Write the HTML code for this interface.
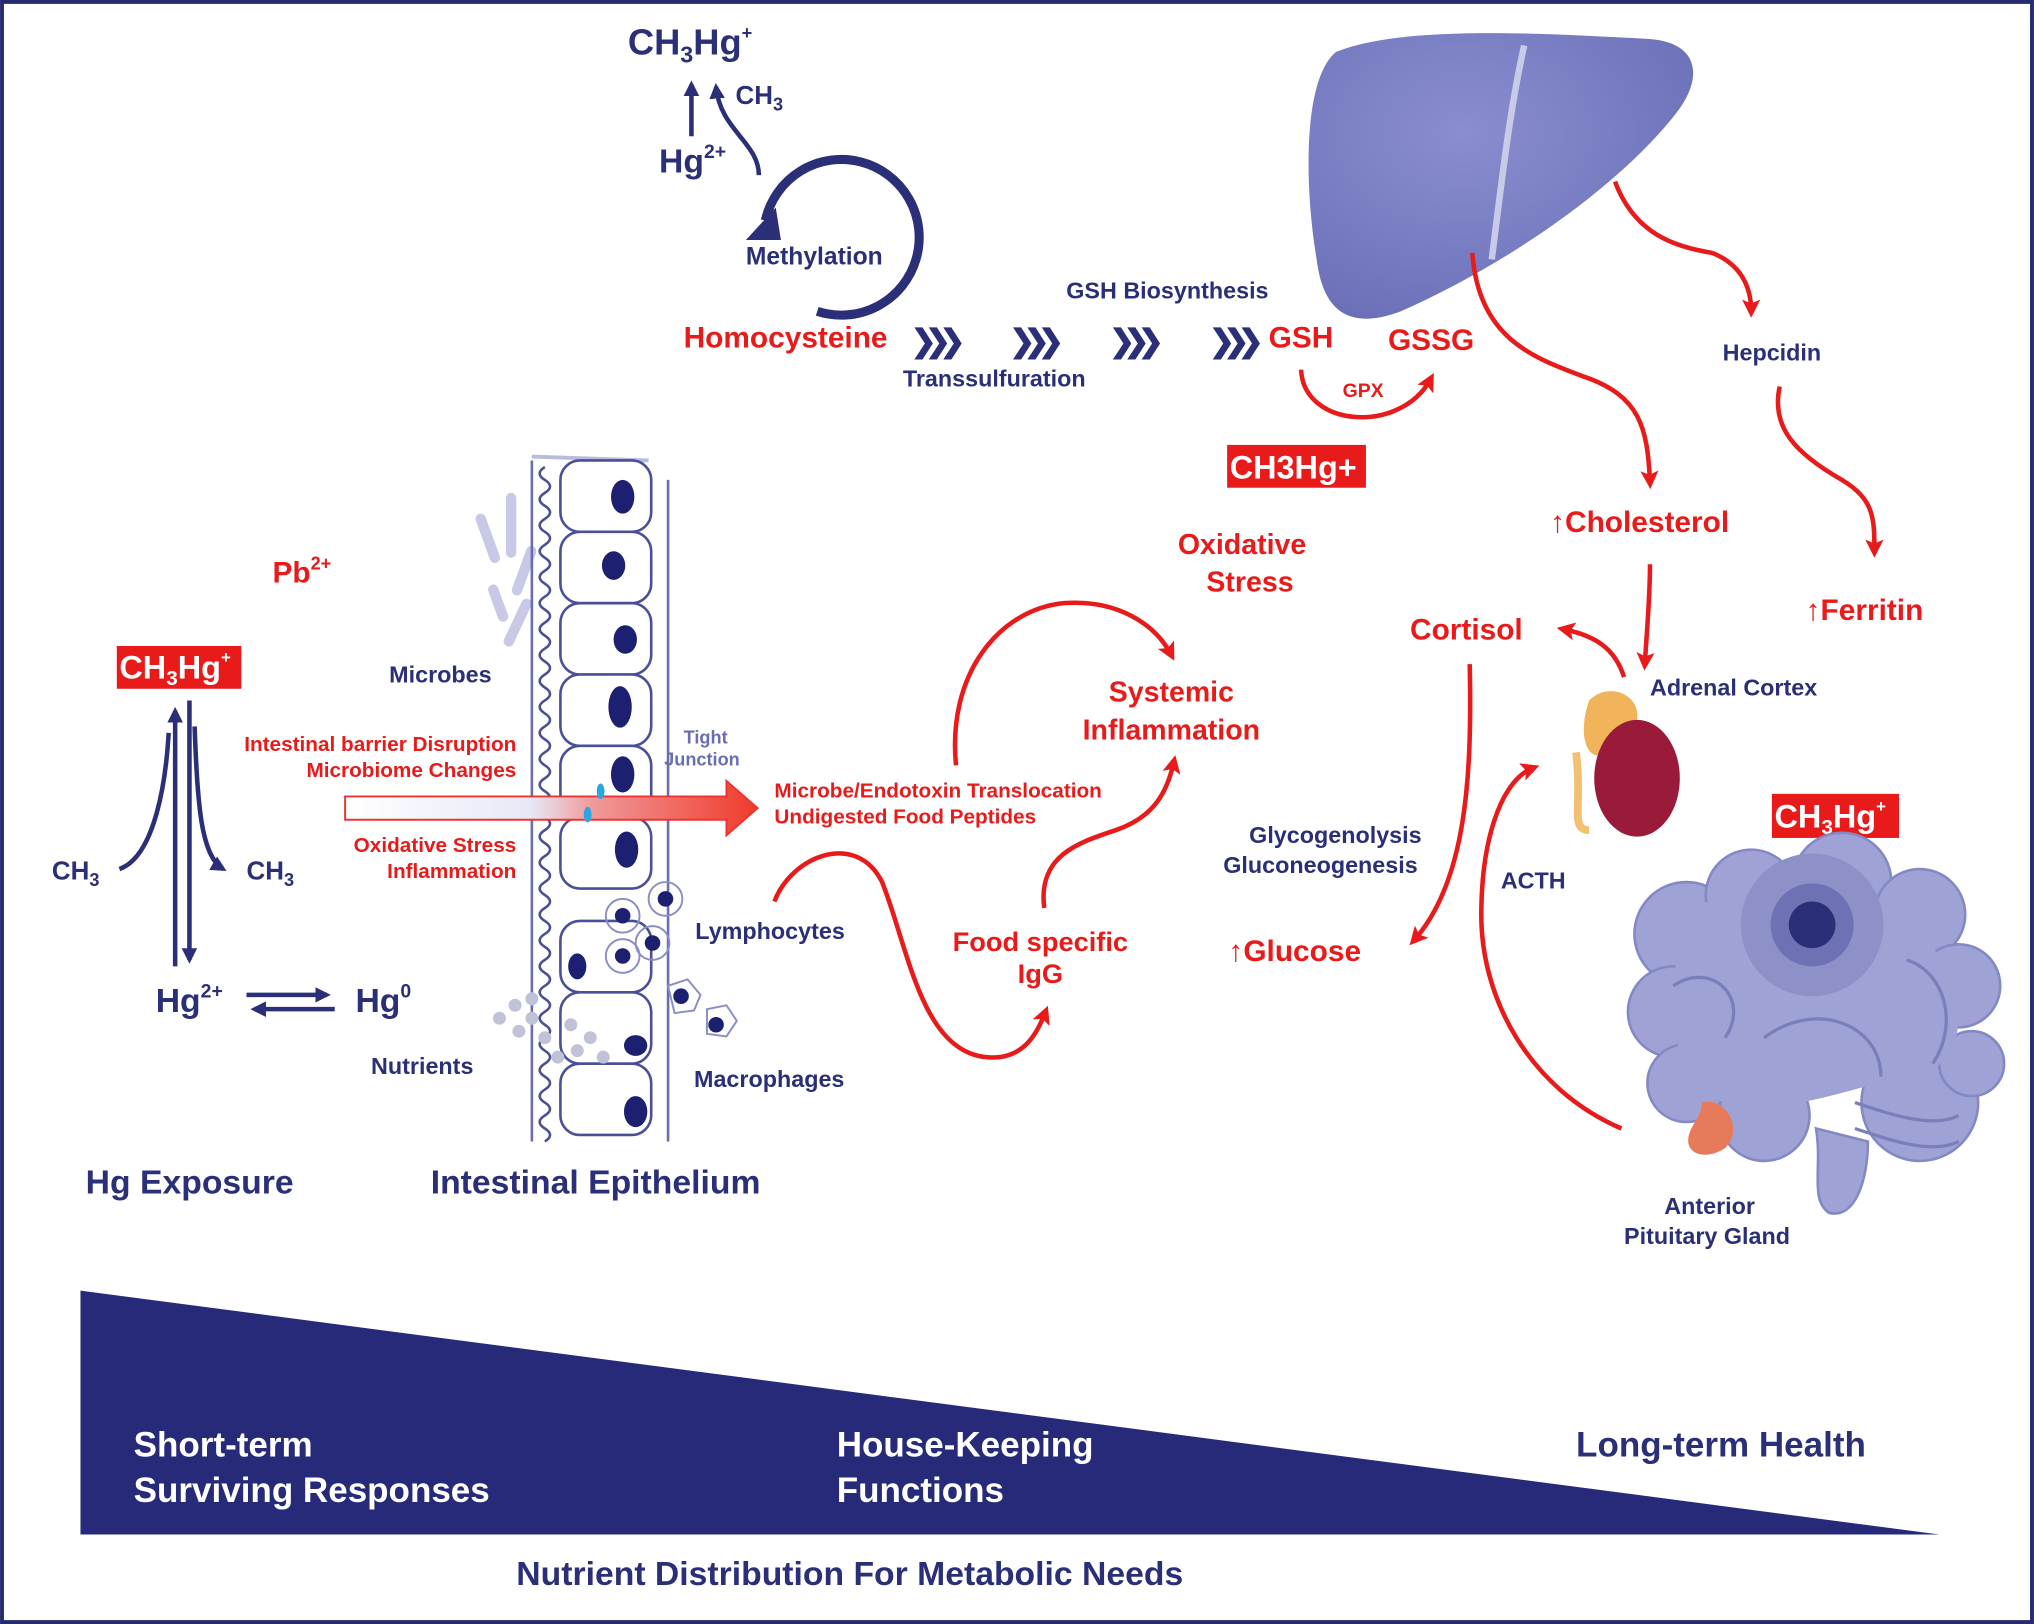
<!DOCTYPE html>
<html><head><meta charset="utf-8"><style>
html,body{margin:0;padding:0;background:#fff;}
svg{display:block;}
text{font-family:"Liberation Sans",sans-serif;font-weight:bold;}
.n{fill:#2b2f78;}
.r{fill:#e81a1a;}
.ra{fill:none;stroke:#e81a1a;stroke-width:3.5;}
.na{fill:none;stroke:#2b2f78;stroke-width:3.5;}
</style></head><body>
<svg width="2034" height="1624" viewBox="0 0 1568 1252" xmlns="http://www.w3.org/2000/svg">
<defs>
<marker id="ar" markerWidth="16" markerHeight="16" refX="9" refY="7" orient="auto" markerUnits="userSpaceOnUse"><path d="M0,0 L14,7 L0,14 L3,7 Z" fill="#e81a1a"/></marker>
<marker id="an" markerWidth="16" markerHeight="16" refX="9" refY="6" orient="auto" markerUnits="userSpaceOnUse"><path d="M0,0 L12,6 L0,12 Z" fill="#2b2f78"/></marker>
<linearGradient id="bg" x1="0" x2="1"><stop offset="0" stop-color="#fff"/><stop offset="0.45" stop-color="#e6e8f6"/><stop offset="0.6" stop-color="#ef9a9a"/><stop offset="1" stop-color="#f03a2a"/></linearGradient>
<radialGradient id="lv" cx="0.4" cy="0.35" r="0.7"><stop offset="0" stop-color="#8a8ed0"/><stop offset="1" stop-color="#6c70b8"/></radialGradient>
</defs>
<rect x="1.5" y="1.5" width="1565" height="1249" fill="none" stroke="#262a70" stroke-width="3"/>
<polygon points="62,995 62,1183 1495,1183" fill="#272a78"/>
<text x="103" y="1123" font-size="27" fill="#fff">Short-term</text>
<text x="103" y="1158" font-size="27" fill="#fff">Surviving Responses</text>
<text x="645" y="1123" font-size="27" fill="#fff">House-Keeping</text>
<text x="645" y="1158" font-size="27" fill="#fff">Functions</text>
<text x="1215" y="1123" font-size="27" class="n">Long-term Health</text>
<text x="398" y="1222" font-size="26" class="n">Nutrient Distribution For Metabolic Needs</text>

<text x="484" y="42" font-size="28" class="n">CH<tspan font-size="18" dy="6">3</tspan><tspan dy="-6">Hg</tspan><tspan font-size="14" dy="-12">+</tspan></text>
<line x1="533" y1="105" x2="533" y2="65" class="na" marker-end="url(#an)"/>
<path d="M585,135 C585,110 555,100 552,67" class="na" marker-end="url(#an)"/>
<text x="567" y="80" font-size="20" class="n">CH<tspan font-size="14" dy="5">3</tspan></text>
<text x="508" y="133" font-size="26" class="n">Hg<tspan font-size="15" dy="-11">2+</tspan></text>
<path d="M590,170 A60,60 0 1 1 630,240" fill="none" stroke="#2b2f78" stroke-width="7"/>
<path d="M575,185 L598,160 L602,185 Z" fill="#2b2f78"/>
<text x="575" y="204" font-size="19" class="n">Methylation</text>

<text x="527" y="268" font-size="23" class="r">Homocysteine</text>
<text x="702" y="271" font-size="24" class="n" letter-spacing="-9">❯❯❯</text>
<text x="778" y="271" font-size="24" class="n" letter-spacing="-9">❯❯❯</text>
<text x="855" y="271" font-size="24" class="n" letter-spacing="-9">❯❯❯</text>
<text x="932" y="271" font-size="24" class="n" letter-spacing="-9">❯❯❯</text>
<text x="822" y="230" font-size="18" class="n">GSH Biosynthesis</text>
<text x="696" y="298" font-size="18" class="n">Transsulfuration</text>
<text x="978" y="268" font-size="23" class="r">GSH</text>
<text x="1070" y="270" font-size="23" class="r">GSSG</text>
<path d="M1003,285 C1005,330 1080,335 1103,292" class="ra" marker-end="url(#ar)"/>
<text x="1035" y="306" font-size="15" class="r" font-weight="normal">GPX</text>
<rect x="946" y="343" width="107" height="33" fill="#e81a1a"/>
<text x="948" y="369" font-size="25" fill="#fff">CH3Hg+</text>
<text x="908" y="427" font-size="22" class="r">Oxidative</text>
<text x="930" y="456" font-size="22" class="r">Stress</text>

<path d="M1030,40 C1080,20 1180,25 1270,30 C1310,32 1315,60 1290,90 C1250,140 1170,200 1080,240 C1040,255 1020,240 1015,200 C1005,140 1005,60 1030,40 Z" fill="url(#lv)"/>
<path d="M1175,35 C1165,80 1160,120 1150,200" stroke="#c8cbe8" stroke-width="5" fill="none"/>
<path d="M1135,195 C1140,260 1180,275 1220,290 C1265,305 1270,330 1272,372" class="ra" marker-end="url(#ar)"/>
<path d="M1245,140 C1260,180 1290,190 1320,195 C1345,205 1350,225 1350,240" class="ra" marker-end="url(#ar)"/>
<text x="1328" y="278" font-size="18" class="n">Hepcidin</text>
<path d="M1372,298 C1365,330 1385,350 1420,370 C1445,385 1445,400 1445,425" class="ra" marker-end="url(#ar)"/>
<text x="1392" y="478" font-size="23" class="r">↑Ferritin</text>
<text x="1195" y="410" font-size="23" class="r">↑Cholesterol</text>
<path d="M1272,435 C1272,460 1270,480 1268,512" class="ra" marker-end="url(#ar)"/>
<text x="1087" y="493" font-size="23" class="r">Cortisol</text>
<path d="M1252,522 C1245,500 1230,490 1205,485" class="ra" marker-end="url(#ar)"/>
<text x="1272" y="536" font-size="18" class="n">Adrenal Cortex</text>
<path d="M1225,540 C1240,525 1265,535 1262,555 L1240,580 C1225,590 1215,570 1225,540Z" fill="#f2b45a"/>
<path d="M1215,580 C1220,620 1210,640 1225,640" stroke="#f2c070" stroke-width="6" fill="none"/>
<ellipse cx="1262" cy="600" rx="33" ry="45" fill="#9a1a3a"/>
<path d="M1133,512 C1135,600 1130,680 1090,725" class="ra" marker-end="url(#ar)"/>
<text x="963" y="650" font-size="18" class="n">Glycogenolysis</text>
<text x="943" y="673" font-size="18" class="n">Gluconeogenesis</text>
<text x="947" y="741" font-size="23" class="r">↑Glucose</text>
<text x="1157" y="685" font-size="18" class="n">ACTH</text>
<path d="M1250,870 C1180,840 1140,770 1142,700 C1143,640 1160,600 1182,592" class="ra" marker-end="url(#ar)"/>
<rect x="1366" y="612" width="98" height="34" fill="#e81a1a"/>
<text x="1368" y="638" font-size="25" fill="#fff">CH<tspan font-size="16" dy="5">3</tspan><tspan dy="-5">Hg</tspan><tspan font-size="13" dy="-12">+</tspan></text>
<!-- brain -->
<g fill="#9ea2d4" stroke="#8488c4" stroke-width="2">
<path d="M1400,870 C1405,900 1395,925 1410,935 C1430,940 1440,910 1440,880 Z"/>
<circle cx="1300" cy="720" r="40"/><circle cx="1350" cy="690" r="35"/><circle cx="1420" cy="680" r="38"/>
<circle cx="1480" cy="705" r="35"/><circle cx="1510" cy="760" r="32"/><circle cx="1290" cy="780" r="35"/>
<circle cx="1300" cy="835" r="30"/><circle cx="1360" cy="860" r="35"/><circle cx="1480" cy="850" r="45"/>
<circle cx="1520" cy="820" r="25"/>
</g>
<path d="M1300,700 C1360,680 1460,680 1505,750 C1520,800 1500,830 1470,830 C1420,840 1380,860 1330,850 C1290,840 1280,780 1300,700Z" fill="#9ea2d4"/>
<circle cx="1397" cy="713" r="55" fill="#8d91c8"/>
<circle cx="1397" cy="713" r="32" fill="#6e72b4"/>
<circle cx="1397" cy="713" r="18" fill="#2b2f78"/>
<path d="M1290,760 C1320,740 1350,770 1330,800 M1360,800 C1400,770 1450,790 1450,830 M1470,740 C1500,750 1510,790 1490,820 M1430,850 C1460,860 1490,870 1510,860 M1430,870 C1460,880 1490,890 1510,880" stroke="#7a7eba" stroke-width="2.5" fill="none"/>
<path d="M1312,850 C1330,845 1345,870 1330,885 C1315,895 1298,890 1302,875 C1305,865 1312,860 1312,850Z" fill="#e77a5a"/>
<text x="1283" y="936" font-size="18" class="n">Anterior</text>
<text x="1252" y="959" font-size="18" class="n">Pituitary Gland</text>

<text x="210" y="449" font-size="23" class="r">Pb<tspan font-size="14" dy="-10">2+</tspan></text>
<rect x="90" y="498" width="96" height="33" fill="#e81a1a"/>
<text x="92" y="523" font-size="25" fill="#fff">CH<tspan font-size="16" dy="5">3</tspan><tspan dy="-5">Hg</tspan><tspan font-size="13" dy="-12">+</tspan></text>
<line x1="135" y1="745" x2="135" y2="548" class="na" marker-end="url(#an)"/>
<line x1="146" y1="540" x2="146" y2="740" class="na" marker-end="url(#an)"/>
<path d="M92,670 C120,660 128,600 130,565" class="na"/>
<path d="M150,560 C152,620 155,660 172,670" class="na" marker-end="url(#an)"/>
<text x="40" y="678" font-size="20" class="n" font-weight="normal">CH<tspan font-size="14" dy="5">3</tspan></text>
<text x="190" y="678" font-size="20" class="n" font-weight="normal">CH<tspan font-size="14" dy="5">3</tspan></text>
<text x="120" y="780" font-size="26" class="n">Hg<tspan font-size="15" dy="-11">2+</tspan></text>
<text x="274" y="780" font-size="26" class="n">Hg<tspan font-size="15" dy="-11">0</tspan></text>
<line x1="190" y1="767" x2="252" y2="767" class="na" marker-end="url(#an)"/>
<line x1="258" y1="778" x2="196" y2="778" class="na" marker-end="url(#an)"/>
<text x="66" y="920" font-size="26" class="n">Hg Exposure</text>
<text x="332" y="920" font-size="26" class="n">Intestinal Epithelium</text>

<g fill="#c7c9e6">
<rect x="372" y="395" width="8" height="40" rx="4" transform="rotate(-20 376 415)"/>
<rect x="390" y="380" width="8" height="50" rx="4"/>
<rect x="395" y="460" width="8" height="40" rx="4" transform="rotate(25 399 480)"/>
<rect x="380" y="450" width="8" height="30" rx="4" transform="rotate(-20 384 465)"/>
<rect x="400" y="420" width="8" height="40" rx="4" transform="rotate(20 404 440)"/>
</g>
<path d="M410,355 L410,880 M515,370 L515,880" stroke="#6a6eb0" stroke-width="2" fill="none"/>
<path d="M410,352 L500,355" stroke="#b8bbe0" stroke-width="3"/>
<path d="M420,360 q-8,5 0,10 q8,5 0,10 q-8,5 0,10 q8,5 0,10 q-8,5 0,10 q8,5 0,10 q-8,5 0,10 q8,5 0,10 q-8,5 0,10 q8,5 0,10 q-8,5 0,10 q8,5 0,10 q-8,5 0,10 q8,5 0,10 q-8,5 0,10 q8,5 0,10 q-8,5 0,10 q8,5 0,10 q-8,5 0,10 q8,5 0,10 q-8,5 0,10 q8,5 0,10 q-8,5 0,10 q8,5 0,10 q-8,5 0,10 q8,5 0,10 q-8,5 0,10 q8,5 0,10 q-8,5 0,10 q8,5 0,10 q-8,5 0,10 q8,5 0,10 q-8,5 0,10 q8,5 0,10 q-8,5 0,10 q8,5 0,10 q-8,5 0,10 q8,5 0,10 q-8,5 0,10 q8,5 0,10 q-8,5 0,10 q8,5 0,10 q-8,5 0,10 q8,5 0,10 q-8,5 0,10 q8,5 0,10 q-8,5 0,10 q8,5 0,10 q-8,5 0,10 q8,5 0,10 q-8,5 0,10 q8,5 0,10" stroke="#4b4f98" stroke-width="2" fill="none"/>
<g stroke="#4b4f98" stroke-width="2" fill="#fff">
<rect x="432" y="355" width="70" height="55" rx="15"/><rect x="432" y="410" width="70" height="55" rx="15"/>
<rect x="432" y="465" width="70" height="55" rx="15"/><rect x="432" y="520" width="70" height="55" rx="15"/>
<rect x="432" y="575" width="70" height="55" rx="15"/><rect x="432" y="630" width="70" height="55" rx="15"/>
<rect x="432" y="710" width="70" height="55" rx="15"/><rect x="432" y="765" width="70" height="55" rx="15"/>
<rect x="432" y="820" width="70" height="55" rx="15"/>
</g>
<g fill="#1d2070">
<ellipse cx="480" cy="383" rx="9" ry="13"/><ellipse cx="473" cy="436" rx="9" ry="11"/>
<ellipse cx="482" cy="493" rx="9" ry="11"/><ellipse cx="478" cy="545" rx="9" ry="16"/>
<ellipse cx="480" cy="597" rx="9" ry="14"/><ellipse cx="483" cy="655" rx="9" ry="14"/>
<ellipse cx="445" cy="745" rx="7" ry="10"/><ellipse cx="490" cy="806" rx="9" ry="8"/>
<ellipse cx="490" cy="857" rx="9" ry="12"/>
<circle cx="480" cy="706" r="6"/><circle cx="513" cy="693" r="6"/><circle cx="480" cy="737" r="6"/>
<circle cx="503" cy="727" r="6"/><circle cx="525" cy="768" r="6"/><circle cx="552" cy="790" r="6"/>
</g>
<g fill="none" stroke="#8a8ec4" stroke-width="1.5">
<circle cx="480" cy="706" r="13"/><circle cx="513" cy="693" r="13"/><circle cx="480" cy="737" r="13"/><circle cx="503" cy="727" r="13"/>
<path d="M515,760 l15,-5 l10,12 l-5,12 l-15,2 z M545,778 l15,-3 l8,12 l-8,12 l-15,-2 z"/>
</g>
<g fill="#c0c2d8">
<circle cx="385" cy="785" r="5"/><circle cx="397" cy="775" r="5"/><circle cx="410" cy="785" r="5"/><circle cx="400" cy="795" r="5"/><circle cx="420" cy="800" r="5"/><circle cx="440" cy="790" r="5"/><circle cx="455" cy="800" r="5"/><circle cx="465" cy="815" r="5"/><circle cx="430" cy="815" r="5"/><circle cx="410" cy="770" r="5"/><circle cx="445" cy="810" r="5"/>
</g>
<text x="300" y="526" font-size="18" class="n">Microbes</text>
<text x="398" y="579" font-size="16" class="r" font-weight="normal" text-anchor="end">Intestinal barrier Disruption</text>
<text x="398" y="599" font-size="16" class="r" font-weight="normal" text-anchor="end">Microbiome Changes</text>
<text x="398" y="657" font-size="16" class="r" font-weight="normal" text-anchor="end">Oxidative Stress</text>
<text x="398" y="677" font-size="16" class="r" font-weight="normal" text-anchor="end">Inflammation</text>
<text x="527" y="573" font-size="14" fill="#6a6eb0" font-weight="normal">Tight</text>
<text x="512" y="590" font-size="14" fill="#6a6eb0" font-weight="normal">Junction</text>
<polygon points="266,614 560,614 560,602 584,623 560,644 560,632 266,632" fill="url(#bg)" stroke="#e33" stroke-width="1.5"/>
<ellipse cx="463" cy="610" rx="3" ry="6" fill="#2aa6e0"/><ellipse cx="453" cy="628" rx="3" ry="6" fill="#2aa6e0"/>
<text x="536" y="724" font-size="18" class="n">Lymphocytes</text>
<text x="535" y="838" font-size="18" class="n">Macrophages</text>
<text x="286" y="828" font-size="18" class="n">Nutrients</text>
<text x="597" y="615" font-size="16" class="r" font-weight="normal">Microbe/Endotoxin Translocation</text>
<text x="597" y="635" font-size="16" class="r" font-weight="normal">Undigested Food Peptides</text>

<path d="M737,590 C730,520 770,470 820,465 C860,462 890,480 903,505" class="ra" marker-end="url(#ar)"/>
<text x="903" y="541" font-size="22" class="r" text-anchor="middle">Systemic</text>
<text x="903" y="570" font-size="22" class="r" text-anchor="middle">Inflammation</text>
<path d="M805,700 C800,660 830,650 860,640 C890,630 900,610 905,587" class="ra" marker-end="url(#ar)"/>
<text x="802" y="733" font-size="21" class="r" text-anchor="middle">Food specific</text>
<text x="802" y="758" font-size="21" class="r" text-anchor="middle">IgG</text>
<path d="M597,695 C610,660 660,640 680,680 C700,730 710,810 760,815 C790,818 800,795 806,780" class="ra" marker-end="url(#ar)"/>
</svg>
</body></html>
